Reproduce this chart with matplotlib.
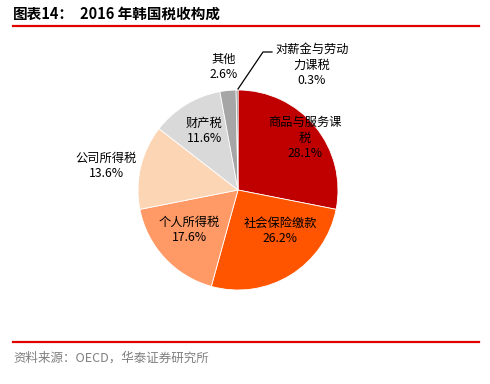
import matplotlib
matplotlib.use('Agg')
import matplotlib.pyplot as plt

plt.rcParams['font.family'] = ['Noto Sans CJK SC', 'DejaVu Sans']

# 数据：2016 年韩国税收构成（%）
categories = ['商品与服务课税', '社会保险缴款', '个人所得税', '公司所得税',
              '财产税', '其他', '对薪金与劳动力课税']
shares = [28.1, 26.2, 17.6, 13.6, 11.6, 2.6, 0.3]
label_text = ['商品与服务课\n税', '社会保险缴款', '个人所得税', '公司所得税',
              '财产税', '其他', '对薪金与劳动\n力课税']
colors = ['#C00000', '#FF5500', '#FF9966', '#FCD5B5', '#D9D9D9', '#A6A6A6', '#7F7F7F']
# 标签位置（以饼图半径为单位）
label_pos = [(0.67, 0.52), (0.42, -0.41), (-0.49, -0.40), (-1.32, 0.24),
             (-0.34, 0.59), (-0.14, 1.23), (0.74, 1.25)]

W, H = 490, 384
fig = plt.figure(figsize=(W / 100, H / 100), dpi=100)

# 标题与红线
fig.text(13 / W, 1 - 14 / H, '图表14：', fontsize=10.5, fontweight='bold', va='center')
fig.text(80 / W, 1 - 14 / H, '2016 年韩国税收构成', fontsize=10.5, fontweight='bold', va='center')
fig.add_artist(plt.Line2D([13 / W, 479 / W], [1 - 26 / H, 1 - 26 / H], color='#E00000', lw=1.6))
fig.add_artist(plt.Line2D([13 / W, 479 / W], [1 - 342 / H, 1 - 342 / H], color='#E00000', lw=1.6))
fig.text(13 / W, 1 - 358 / H, '资料来源：OECD，华泰证券研究所', fontsize=9, color='#7F7F7F', va='center')

ax = fig.add_axes([138 / W, 1 - 290 / H, 200 / W, 200 / H])
ax.pie(shares, colors=colors, startangle=90, counterclock=False, radius=1,
       wedgeprops=dict(edgecolor='white', linewidth=0.6))
ax.set_xlim(-1, 1)
ax.set_ylim(-1, 1)
ax.set_aspect('equal')
ax.axis('off')

for name, val, (x, y) in zip(label_text, shares, label_pos):
    ax.text(x, y, f'{name}\n{val:.1f}%', ha='center', va='center', fontsize=8.8,
            linespacing=1.25, clip_on=False)

# 引导线
ax.plot([0.0, 0.25, 0.34], [1.01, 1.38, 1.38], color='black', lw=0.9, clip_on=False)

fig.savefig('out.png', dpi=100)
